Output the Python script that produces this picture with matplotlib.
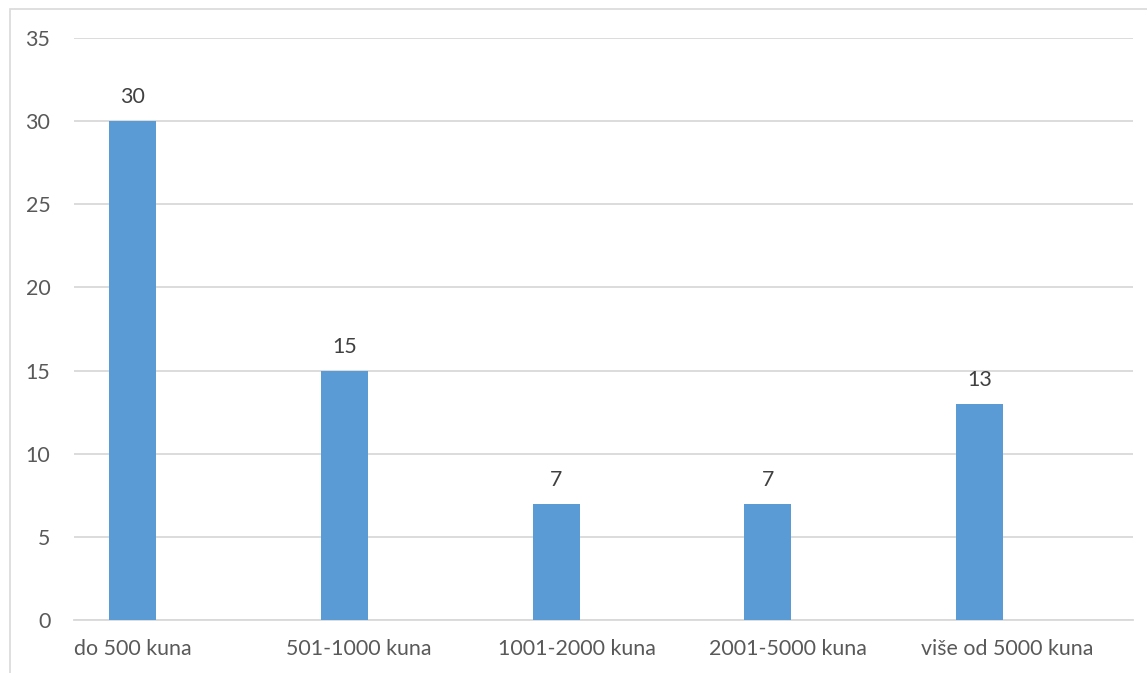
import matplotlib
matplotlib.use("Agg")
import matplotlib.pyplot as plt
from matplotlib.patches import Rectangle
import numpy as np

categories = ["do 500 kuna", "501-1000 kuna", "1001-2000 kuna", "2001-5000 kuna", "više od 5000 kuna"]
values = [30, 15, 7, 7, 13]
yticks = [0, 5, 10, 15, 20, 25, 30, 35]

plt.rcParams['font.family'] = ['Lato', 'DejaVu Sans']
W, H = 1147, 673
fig = plt.figure(figsize=(W / 100, H / 100), dpi=100)
ax = fig.add_axes([74 / W, 1 - 620 / H, (1133 - 74) / W, (620 - 38) / H])

fs = 15.4
x = np.arange(len(categories))
bar_offset = -0.224
bw = 0.222
ax.bar(x + bar_offset, values, width=bw, color="#5B9BD5", zorder=3)
for xi, v in zip(x, values):
    ax.annotate(str(v), (xi + bar_offset, v), xytext=(0, 10), textcoords="offset points",
                ha="center", va="bottom", fontsize=fs, color="#404040")

ax.set_xlim(-0.5, len(categories) - 0.5)
ax.set_ylim(0, 35)
ax.set_yticks(yticks)
ax.set_yticklabels([str(t) for t in yticks], fontsize=fs, color="#595959")
ax.tick_params(axis="y", length=0, pad=17)
ax.set_xticks([])
for xi, c in zip(x, categories):
    ax.text(xi - 0.5, -0.033, c, transform=ax.get_xaxis_transform(), ha="left", va="top",
            fontsize=fs, color="#595959")
ax.yaxis.grid(True, color="#D9D9D9", linewidth=1.3, zorder=0)
for s in ["top", "right", "left"]:
    ax.spines[s].set_visible(False)
ax.spines["bottom"].set_color("#D9D9D9")
ax.spines["bottom"].set_linewidth(1.3)

fig.patches.append(Rectangle((9.5 / W, -0.1), 1.2, 1 - 9 / H + 0.1, transform=fig.transFigure,
                             fill=False, edgecolor="#D9D9D9", linewidth=1.2))

fig.savefig("out.png", dpi=100)
